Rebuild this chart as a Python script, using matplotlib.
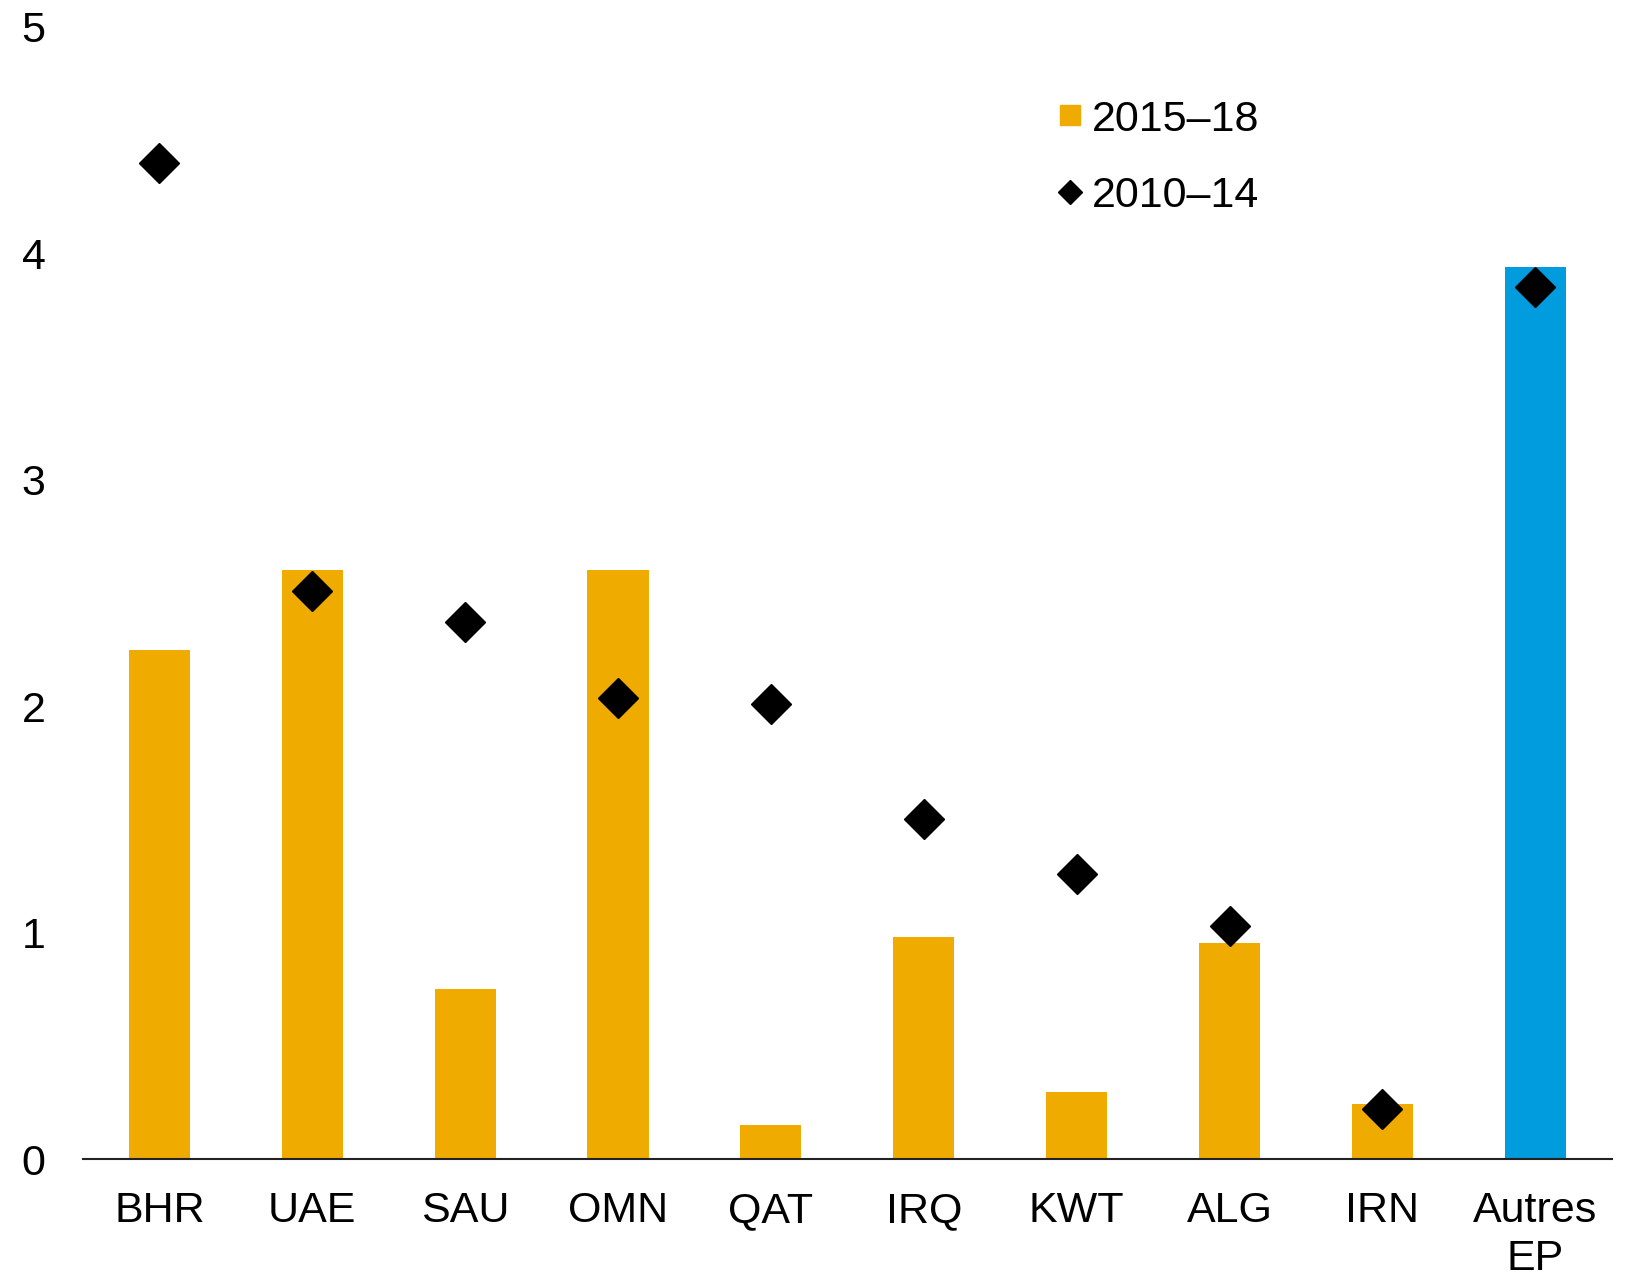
import numpy as np
import matplotlib
matplotlib.use("Agg")
import matplotlib.pyplot as plt
from matplotlib.lines import Line2D

plt.rcParams['font.family'] = ['Liberation Sans', 'DejaVu Sans']

countries = ['BHR', 'UAE', 'SAU', 'OMN', 'QAT', 'IRQ', 'KWT', 'ALG', 'IRN', 'Autres\nEP']
val_2015_18 = [2.25, 2.60, 0.75, 2.60, 0.15, 0.98, 0.295, 0.955, 0.245, 3.94]
val_2010_14 = [4.40, 2.51, 2.37, 2.035, 2.01, 1.50, 1.26, 1.03, 0.22, 3.85]

orange = '#F0AB00'
blue = '#009CDE'
bar_colors = [orange] * 9 + [blue]

fig = plt.figure(figsize=(16.33, 12.77), dpi=100)
ax = fig.add_axes([0.0508, 0.0924, 0.9362, 0.8866])

x = np.arange(len(countries))
ax.bar(x, val_2015_18, width=0.4, color=bar_colors, zorder=2)
ax.plot(x, val_2010_14, linestyle='none', marker='D', markersize=20,
        color='black', zorder=3)

ax.set_xlim(-0.5, 9.5)
ax.set_ylim(0, 5)
ax.set_yticks([0, 1, 2, 3, 4, 5])
ax.set_xticks(x)
ax.set_xticklabels(countries, linespacing=1.25)
ax.tick_params(axis='y', length=0, pad=27, labelsize=31)
ax.tick_params(axis='x', length=0, pad=23, labelsize=31)

for s in ['top', 'right', 'left']:
    ax.spines[s].set_visible(False)
ax.spines['bottom'].set_linewidth(1.5)
ax.spines['bottom'].set_color('#222222')

handles = [
    Line2D([], [], linestyle='none', marker='s', markersize=14,
           color=orange, label='2015–18'),
    Line2D([], [], linestyle='none', marker='D', markersize=12,
           color='black', label='2010–14'),
]
ax.legend(handles=handles, loc='upper left', bbox_to_anchor=(0.626, 0.951),
          frameon=False, fontsize=31, handlelength=0.6, handletextpad=0.2,
          labelspacing=0.85, borderaxespad=0)

fig.savefig('out.png', dpi=100)
